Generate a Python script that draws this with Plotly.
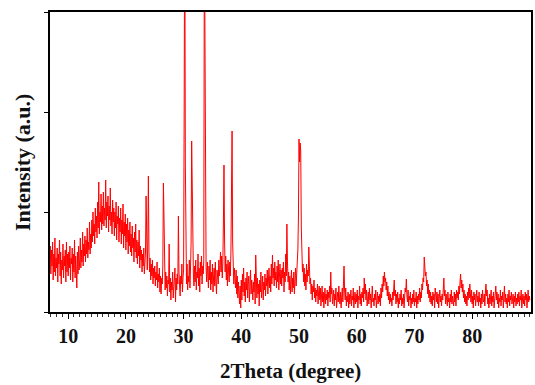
import plotly.graph_objects as go

# XRD pattern: one row per degree of 2Theta (6..89), samples every 0.1 degree, then 90.0
first_degree = 6
sample_step = 0.1
intensity_rows = [
    [50, 68, 34, 60, 42, 72, 30, 56, 44, 66],       # 6
    [38, 62, 46, 70, 32, 58, 40, 74, 36, 54],       # 7
    [44, 64, 30, 58, 48, 72, 36, 60, 28, 52],       # 8
    [42, 68, 34, 56, 46, 62, 30, 70, 40, 58],       # 9
    [36, 60, 44, 66, 32, 54, 48, 64, 30, 58],       # 10
    [40, 72, 34, 56, 44, 24, 60, 38, 66, 42],       # 11
    [52, 74, 44, 62, 50, 80, 46, 68, 56, 76],       # 12
    [50, 72, 58, 84, 54, 70, 62, 90, 58, 78],       # 13
    [64, 92, 70, 100, 76, 88, 68, 104, 80, 96],     # 14
    [74, 110, 84, 130, 78, 100, 90, 118, 82, 106],  # 15
    [88, 120, 86, 104, 92, 132, 84, 110, 96, 116],  # 16
    [80, 106, 92, 124, 86, 100, 78, 112, 90, 104],  # 17
    [76, 100, 84, 110, 72, 96, 88, 106, 70, 94],    # 18
    [80, 104, 68, 92, 78, 108, 64, 90, 76, 98],     # 19
    [62, 88, 70, 94, 58, 82, 66, 90, 60, 78],       # 20
    [56, 86, 64, 74, 50, 80, 60, 88, 54, 72],       # 21
    [48, 70, 56, 82, 44, 66, 52, 62, 40, 58],       # 22
    [46, 64, 38, 56, 60, 116, 50, 42, 70, 136],     # 23
    [60, 40, 54, 32, 48, 36, 52, 28, 44, 34],       # 24
    [46, 26, 40, 32, 50, 24, 38, 30, 44, 20],       # 25
    [36, 18, 34, 28, 46, 129, 96, 30, 22, 40],      # 26
    [24, 36, 16, 32, 28, 68, 20, 34, 12, 30],       # 27
    [22, 40, 14, 30, 26, 44, 10, 34, 22, 38],       # 28
    [28, 96, 40, 24, 16, 36, 28, 48, 20, 34],       # 29
    [42, 200, 420, 150, 40, 28, 48, 22, 36, 30],    # 30
    [52, 24, 44, 70, 171, 118, 56, 36, 26, 46],     # 31
    [30, 52, 22, 40, 34, 58, 26, 44, 20, 50],       # 32
    [36, 56, 28, 46, 38, 52, 400, 200, 60, 44],     # 33
    [30, 50, 38, 24, 46, 32, 52, 22, 40, 28],       # 34
    [48, 20, 36, 44, 26, 50, 30, 18, 42, 34],       # 35
    [28, 52, 36, 44, 60, 40, 56, 34, 48, 90],       # 36
    [147, 72, 40, 56, 32, 48, 26, 52, 38, 30],      # 37
    [50, 36, 60, 110, 181, 70, 40, 28, 44, 34],     # 38
    [24, 42, 18, 36, 14, 30, 22, 8, 26, 4],         # 39
    [32, 12, 38, 20, 44, 16, 30, 10, 34, 22],       # 40
    [40, 14, 28, 36, 10, 26, 42, 18, 32, 24],       # 41
    [12, 30, 20, 38, 8, 57, 26, 14, 34, 18],        # 42
    [28, 6, 32, 20, 40, 14, 24, 36, 12, 30],        # 43
    [22, 38, 16, 34, 26, 42, 18, 30, 44, 24],       # 44
    [36, 20, 48, 28, 57, 34, 44, 26, 50, 32],       # 45
    [40, 24, 46, 30, 52, 22, 38, 48, 28, 42],       # 46
    [26, 44, 34, 50, 20, 40, 30, 58, 36, 88],       # 47
    [50, 30, 40, 22, 36, 18, 32, 42, 20, 34],       # 48
    [24, 40, 18, 30, 44, 26, 38, 52, 62, 94],       # 49
    [173, 150, 169, 160, 84, 56, 40, 48, 30, 44],   # 50
    [26, 38, 22, 48, 30, 42, 36, 65, 40, 28],       # 51
    [34, 18, 28, 12, 26, 20, 32, 14, 24, 10],       # 52
    [22, 16, 28, 8, 20, 26, 12, 24, 6, 18],         # 53
    [26, 10, 20, 4, 16, 24, 8, 18, 12, 22],         # 54
    [6, 20, 14, 26, 10, 40, 18, 24, 8, 16],         # 55
    [22, 6, 18, 12, 24, 4, 16, 20, 10, 26],         # 56
    [14, 8, 20, 4, 16, 24, 10, 30, 46, 22],         # 57
    [12, 24, 6, 16, 10, 20, 4, 18, 8, 14],          # 58
    [22, 6, 16, 12, 24, 4, 14, 20, 8, 18],          # 59
    [10, 22, 4, 16, 12, 26, 8, 18, 6, 20],          # 60
    [14, 24, 10, 34, 18, 28, 12, 22, 6, 16],        # 61
    [20, 8, 24, 12, 18, 4, 16, 26, 10, 14],         # 62
    [6, 18, 12, 22, 4, 14, 20, 8, 16, 10],          # 63
    [18, 6, 24, 14, 28, 20, 36, 26, 40, 30],        # 64
    [34, 22, 30, 16, 26, 12, 20, 8, 18, 10],        # 65
    [14, 6, 20, 12, 26, 32, 16, 22, 8, 18],         # 66
    [10, 20, 4, 14, 8, 18, 12, 22, 6, 14],          # 67
    [8, 18, 4, 14, 24, 20, 33, 16, 10, 22],         # 68
    [6, 16, 12, 20, 4, 14, 8, 18, 10, 22],          # 69
    [6, 14, 10, 20, 4, 16, 8, 18, 12, 24],          # 70
    [10, 20, 14, 28, 22, 34, 30, 55, 44, 36],       # 71
    [40, 26, 32, 18, 28, 14, 22, 10, 20, 8],        # 72
    [16, 6, 20, 12, 18, 4, 24, 14, 10, 20],         # 73
    [8, 18, 4, 14, 22, 10, 16, 6, 18, 12],          # 74
    [24, 34, 16, 22, 8, 18, 12, 6, 20, 10],         # 75
    [14, 4, 18, 10, 22, 8, 16, 12, 6, 20],          # 76
    [10, 18, 6, 22, 14, 20, 12, 26, 18, 30],        # 77
    [38, 24, 32, 20, 28, 14, 22, 10, 18, 8],        # 78
    [16, 6, 20, 12, 24, 14, 28, 18, 10, 22],        # 79
    [8, 16, 4, 20, 12, 18, 6, 14, 22, 10],          # 80
    [16, 6, 20, 10, 14, 4, 18, 8, 22, 12],          # 81
    [10, 18, 6, 20, 28, 16, 22, 8, 14, 4],          # 82
    [18, 8, 14, 22, 6, 16, 10, 20, 4, 12],          # 83
    [16, 26, 12, 20, 8, 18, 4, 14, 10, 22],         # 84
    [6, 16, 12, 20, 4, 14, 26, 10, 18, 8],          # 85
    [14, 4, 18, 10, 22, 6, 16, 12, 20, 8],          # 86
    [12, 18, 4, 16, 10, 20, 6, 14, 8, 18],          # 87
    [10, 20, 6, 16, 12, 22, 4, 14, 18, 8],          # 88
    [16, 6, 20, 12, 18, 4, 14, 22, 10, 16],         # 89
    [12],                                           # 90
]

two_theta = []
intensity = []
for r, row in enumerate(intensity_rows):
    for j, v in enumerate(row):
        two_theta.append(round(first_degree + r + j * sample_step, 2))
        intensity.append(v)

x_tick_values = [10, 20, 30, 40, 50, 60, 70, 80]
x_tick_labels = ["10", "20", "30", "40", "50", "60", "70", "80"]
x_label = "2Theta (degree)"
y_label = "Intensity (a.u.)"

font_family = "Liberation Serif"

fig = go.Figure()
fig.add_trace(go.Scatter(
    x=two_theta, y=intensity, mode="lines",
    line=dict(color="#ff0000", width=1),
    hoverinfo="skip", showlegend=False,
))

fig.update_layout(
    width=535, height=385,
    margin=dict(l=50, r=2, t=12, b=73),
    paper_bgcolor="white", plot_bgcolor="white",
    font=dict(family=font_family, color="#111111"),
)

fig.update_xaxes(
    range=[6.85, 90.2],
    tickmode="array", tickvals=x_tick_values, ticktext=x_tick_labels,
    ticks="outside", ticklen=5, tickwidth=1.2, tickcolor="black",
    minor=dict(dtick=1, ticks="outside", ticklen=3, tickwidth=1, tickcolor="#333333", showgrid=False),
    showline=True, linecolor="black", linewidth=1.8, mirror=True,
    showgrid=False, zeroline=False,
    tickfont=dict(family=font_family, size=20, color="#111111", weight="bold"),
)
fig.update_yaxes(
    range=[0, 300],
    tickmode="array", tickvals=[0, 100, 200, 300],
    ticks="outside", ticklen=4, tickwidth=1, tickcolor="black",
    showticklabels=False,
    showline=True, linecolor="black", linewidth=1.8, mirror=True,
    showgrid=False, zeroline=False,
)

fig.add_annotation(
    text=x_label, xref="paper", yref="paper", x=0.5, y=-0.2433,
    xanchor="center", yanchor="bottom", showarrow=False,
    font=dict(family=font_family, size=21, color="#111111", weight="bold"),
)
fig.add_annotation(
    text=y_label, xref="paper", yref="paper", x=-0.058, y=0.5,
    xanchor="center", yanchor="middle", showarrow=False, textangle=-90,
    font=dict(family=font_family, size=22, color="#111111", weight="bold"),
)

fig.write_html(
    "out.html",
    config={"displayModeBar": False},
    post_script="document.body.style.margin='0px';document.body.style.padding='0px';document.body.style.overflow='hidden';",
)
